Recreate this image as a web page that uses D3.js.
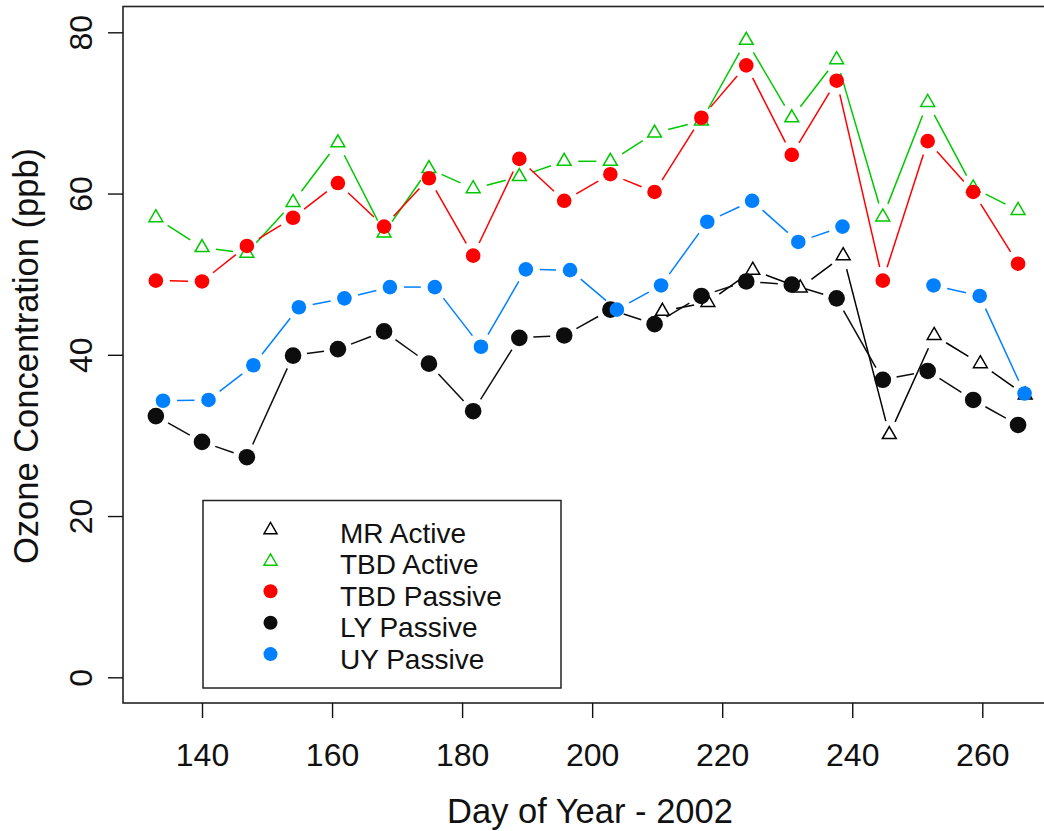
<!DOCTYPE html>
<html>
<head>
<meta charset="utf-8">
<script src="https://cdn.jsdelivr.net/npm/d3@7/dist/d3.min.js"></script>
<style>
  html, body { margin: 0; padding: 0; background: #fff; }
  svg { display: block; }
  text { font-family: "Liberation Sans", Arial, Helvetica, sans-serif; fill: #111; }
</style>
</head>
<body>
<svg id="chart" width="1044" height="831"></svg>
<script>
// Sampling days (day of year, 2002)
const sampleDays = [132.9, 140.0, 146.9, 154.0, 160.9, 168.0, 174.9, 181.7, 188.8, 195.7,
                    202.8, 209.6, 216.8, 223.7, 230.7, 237.6, 244.7, 251.6, 258.6, 265.5];
const uyDays = [134.0, 141.0, 147.9, 154.9, 161.9, 168.9, 175.8, 182.9, 189.8, 196.6,
                203.8, 210.6, 217.7, 224.6, 231.7, 238.5, 245.5, 252.5, 259.6, 266.5];
const mrDays = [210.8, 217.8, 224.7, 232.0, 238.6, 245.7, 252.6, 259.7, 266.6];

// Ozone concentrations (ppb)
const mrActive   = [45.4, 46.5, 50.5, 48.3, 52.3, 30.1, 42.4, 38.9, 35.0];
const tbdActive  = [57.0, 53.3, 52.6, 58.9, 66.3, 55.1, 63.1, 60.6, 62.1, 64.0,
                    64.0, 67.5, 69.0, 79.0, 69.4, 76.6, 57.1, 71.3, 60.7, 57.9];
const tbdPassive = [49.2, 49.1, 53.5, 57.0, 61.3, 55.9, 61.9, 52.3, 64.3, 59.1,
                    62.4, 60.2, 69.4, 75.9, 64.8, 74.0, 49.2, 66.5, 60.2, 51.3];
const lyPassive  = [32.4, 29.2, 27.3, 39.9, 40.7, 42.9, 38.9, 33.0, 42.1, 42.4,
                    45.6, 43.8, 47.3, 49.1, 48.7, 47.0, 36.9, 38.0, 34.4, 31.3];
const uyPassive  = [34.3, 34.4, 38.7, 45.9, 47.0, 48.4, 48.4, 41.0, 50.6, 50.5,
                    45.6, 48.6, 56.5, 59.1, 54.0, 55.9, null, 48.6, 47.3, 35.2];

const seriesNames = ["MR Active", "TBD Active", "TBD Passive", "LY Passive", "UY Passive"];
const xTicks = [140, 160, 180, 200, 220, 240, 260];
const yTicks = [0, 20, 40, 60, 80];

const series = [
  { name: seriesNames[0], days: mrDays,     values: mrActive,   color: "#000000", shape: "triangle", r: 8 },
  { name: seriesNames[1], days: sampleDays, values: tbdActive,  color: "#00C800", shape: "triangle", r: 8 },
  { name: seriesNames[2], days: sampleDays, values: tbdPassive, color: "#FF0000", shape: "circle",   r: 7.3 },
  { name: seriesNames[3], days: sampleDays, values: lyPassive,  color: "#0D0D0D", shape: "circle",   r: 8.3 },
  { name: seriesNames[4], days: uyDays,     values: uyPassive,  color: "#0080FF", shape: "circle",   r: 7.3 }
];

const svg = d3.select("#chart");

const x = d3.scaleLinear().domain([127.68, 271.32]).range([121.9, 1055.9]);
const y = d3.scaleLinear().domain([-3.2, 83.2]).range([703.1, 6.5]);

const trianglePath = r => {
  const h = r * Math.sqrt(3) / 2;
  return `M0,${-r}L${h},${r / 2}L${-h},${r / 2}Z`;
};

// Plot frame
svg.append("rect")
  .attr("x", 123).attr("y", 6.5)
  .attr("width", 1000).attr("height", 696.5)
  .attr("fill", "none").attr("stroke", "#222").attr("stroke-width", 1.6);

// X axis
const gx = svg.append("g").attr("transform", "translate(0,703)")
  .call(d3.axisBottom(x).tickValues(xTicks).tickSize(15).tickPadding(25).tickFormat(d3.format("d")));
gx.select(".domain").remove();
gx.selectAll(".tick line").attr("stroke", "#111").attr("stroke-width", 1.4);
gx.selectAll(".tick text").attr("font-size", 32).attr("fill", "#111")
  .style("font-family", '"Liberation Sans", Arial, sans-serif');

// Y axis with rotated labels
const gy = svg.append("g").attr("transform", "translate(123,0)")
  .call(d3.axisLeft(y).tickValues(yTicks).tickSize(15).tickFormat(d3.format("d")));
gy.select(".domain").remove();
gy.selectAll(".tick line").attr("stroke", "#111").attr("stroke-width", 1.4);
gy.selectAll(".tick text")
  .attr("x", 0).attr("y", 0).attr("dy", 0)
  .attr("text-anchor", "middle")
  .attr("transform", "translate(-31,0) rotate(-90)")
  .attr("font-size", 32).attr("fill", "#111")
  .style("font-family", '"Liberation Sans", Arial, sans-serif');

// Axis titles
svg.append("text")
  .attr("x", 590).attr("y", 823)
  .attr("text-anchor", "middle").attr("font-size", 34.5)
  .text("Day of Year - 2002");
svg.append("text")
  .attr("transform", "translate(37.5,356) rotate(-90)")
  .attr("text-anchor", "middle").attr("font-size", 34.5)
  .text("Ozone Concentration (ppb)");

// Series: broken connecting lines with symbols at each sample
const gap = 14;
series.forEach(s => {
  const pts = s.days.map((d, i) => ({ d, v: s.values[i] }));
  const g = svg.append("g");
  for (let i = 0; i < pts.length - 1; i++) {
    const a = pts[i], b = pts[i + 1];
    if (a.v == null || b.v == null) continue;
    const x1 = x(a.d), y1 = y(a.v), x2 = x(b.d), y2 = y(b.v);
    const len = Math.hypot(x2 - x1, y2 - y1);
    if (len <= 2 * gap) continue;
    const ux = (x2 - x1) / len, uy = (y2 - y1) / len;
    g.append("line")
      .attr("x1", x1 + ux * gap).attr("y1", y1 + uy * gap)
      .attr("x2", x2 - ux * gap).attr("y2", y2 - uy * gap)
      .attr("stroke", s.color).attr("stroke-width", 1.5);
  }
  const valid = pts.filter(p => p.v != null);
  if (s.shape === "circle") {
    g.selectAll("circle").data(valid).join("circle")
      .attr("cx", p => x(p.d)).attr("cy", p => y(p.v))
      .attr("r", s.r).attr("fill", s.color);
  } else {
    g.selectAll("path").data(valid).join("path")
      .attr("transform", p => `translate(${x(p.d)},${y(p.v)})`)
      .attr("d", trianglePath(s.r))
      .attr("fill", "none").attr("stroke", s.color).attr("stroke-width", 1.5);
  }
});

// Legend
const legend = svg.append("g");
legend.append("rect")
  .attr("x", 203).attr("y", 500.5).attr("width", 358).attr("height", 187.5)
  .attr("fill", "#fff").attr("stroke", "#222").attr("stroke-width", 1.5);
series.forEach((s, i) => {
  const cy = 528.5 + i * 31.4;
  if (s.shape === "circle") {
    legend.append("circle").attr("cx", 270.5).attr("cy", cy).attr("r", 7).attr("fill", s.color);
  } else {
    legend.append("path")
      .attr("transform", `translate(270.5,${cy + 1.5})`)
      .attr("d", trianglePath(7.6))
      .attr("fill", "none").attr("stroke", s.color).attr("stroke-width", 1.4);
  }
  legend.append("text")
    .attr("x", 340).attr("y", cy + 14.5)
    .attr("font-size", 28)
    .text(s.name);
});
</script>
</body>
</html>
